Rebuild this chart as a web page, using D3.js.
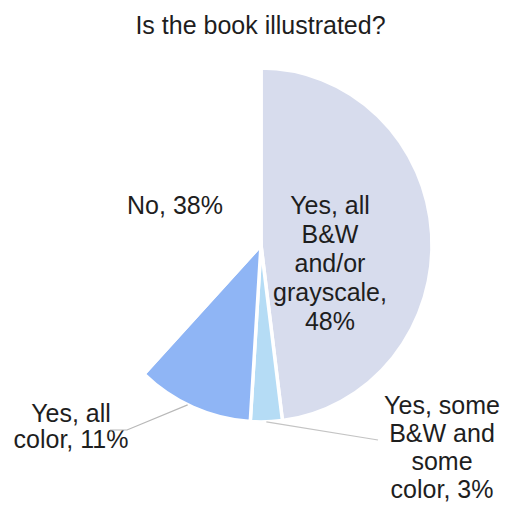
<!DOCTYPE html>
<html>
<head>
<meta charset="utf-8">
<script src="https://cdn.jsdelivr.net/npm/d3@7"></script>
<style>
  html, body { margin: 0; padding: 0; background: #fff; }
  svg { display: block; }
  text { font-family: "Liberation Sans", Arial, sans-serif; fill: #1e1e1e; }
</style>
</head>
<body>
<svg id="chart" width="505" height="506"></svg>
<script>
// Survey answers, clockwise from 12 o'clock
const categories = [
  "Yes, all B&W and/or grayscale",
  "Yes, some B&W and some color",
  "Yes, all color",
  "No"
];
const values = [48, 3, 11, 38];
const labelLines = [
  ["Yes, all", "B&W", "and/or", "grayscale,", "48%"],
  ["Yes, some", "B&W and", "some", "color, 3%"],
  ["Yes, all", "color, 11%"],
  ["No, 38%"]
];
const colors = ["#d7dced", "#b5dcf5", "#8fb5f5", "#ffffff"];
const title = "Is the book illustrated?";

const svg = d3.select("#chart");
const W = 505;
const cx = 261, cy = 245, rx = 171, ry = 177;

svg.append("text")
  .attr("x", W / 2 + 8).attr("y", 34)
  .attr("text-anchor", "middle")
  .attr("font-size", 25)
  .text(title);

const data = categories.map((c, i) => ({ cat: c, value: values[i], lines: labelLines[i], color: colors[i] }));
const pie = d3.pie().value(d => d.value).sort(null);
const arcs = pie(data);
const arc = d3.arc().innerRadius(0).outerRadius(rx);

const g = svg.append("g")
  .attr("transform", `translate(${cx},${cy}) scale(1,${ry / rx})`);

g.selectAll("path")
  .data(arcs)
  .join("path")
  .attr("d", arc)
  .attr("fill", d => d.data.color)
  .attr("stroke", "#fff")
  .attr("stroke-width", 3.5);

// point on the (slightly elliptical) rim at a given pie angle
function rim(angle, k) {
  return [cx + rx * k * Math.sin(angle), cy - ry * k * Math.cos(angle)];
}

// label anchor (centre x, centre y of first line, line height) for each slice
const labelPos = [
  [330, 205, 29],   // inside the big slice
  [442, 405, 28],
  [71, 413, 26],
  [175, 205, 29]
];

arcs.forEach((a, i) => {
  const lp = labelPos[i];
  const t = svg.append("text")
    .attr("text-anchor", "middle")
    .attr("font-size", 25);
  a.data.lines.forEach((ln, j) => {
    t.append("tspan")
      .attr("x", lp[0])
      .attr("y", lp[1] + j * lp[2] + 9)
      .text(ln);
  });
});

// leader lines for the two labels placed outside the pie
const leader = d3.line();
const mid = a => (a.startAngle + a.endAngle) / 2;
const pSome = rim(mid(arcs[1]), 1.0);
svg.append("path")
  .attr("d", leader([pSome, [378, 440]]))
  .attr("fill", "none").attr("stroke", "#c4c4c4").attr("stroke-width", 1.2);

const pColor = rim(mid(arcs[2]) + 0.035, 1.0);
svg.append("path")
  .attr("d", leader([pColor, [127, 430], [110, 430]]))
  .attr("fill", "none").attr("stroke", "#b8b8b8").attr("stroke-width", 1.2);
</script>
</body>
</html>
